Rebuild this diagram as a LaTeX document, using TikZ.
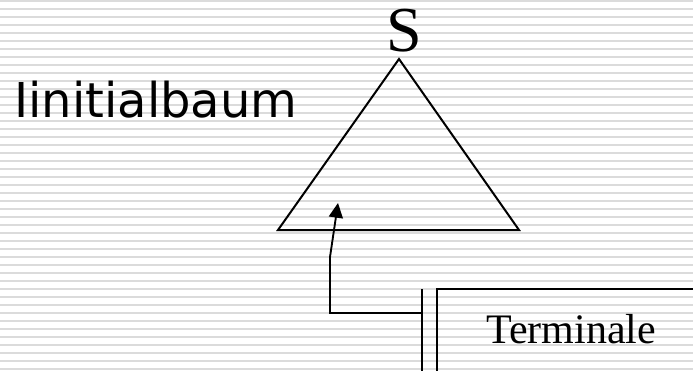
\documentclass[tikz,border=0pt]{standalone}
\usepackage{fontspec}
\setmainfont{Liberation Serif}
\newfontfamily\dejavu{DejaVu Sans}
\usetikzlibrary{arrows.meta}
\tikzset{
  stripe/.style={draw=black!14, line width=1.1pt},
  ink/.style={draw=black, line width=1.5pt},
  conn/.style={draw=black, line width=1.4pt, -{Triangle[length=11pt,width=10.5pt]}},
}
\begin{document}
\begin{tikzpicture}[x=0.75pt,y=-0.75pt]
\useasboundingbox (0,0) rectangle (693,371);
\clip (0,0) rectangle (693,371);
\fill[white] (0,0) rectangle (693,371);
\foreach \k in {0,...,46} {
  \draw[stripe] (0,{1+8*\k}) -- (693,{1+8*\k});
}
% triangle
\coordinate (apex) at (399,59);
\coordinate (bl) at (278,230);
\coordinate (br) at (519,230);
\draw[ink, line join=miter] (apex) -- (br) -- (bl) -- cycle;
% labels
\node[anchor=base, inner sep=0pt, font=\fontsize{48pt}{48pt}\selectfont] (s) at (404,51) {S};
\node[anchor=base west, inner sep=0pt, font=\dejavu\fontsize{36pt}{36pt}\selectfont] (init) at (14,117) {Iinitialbaum};
% box
\coordinate (outerTop) at (422,289);
\coordinate (outerBot) at (422,380);
\draw[ink] (outerTop) -- (outerBot);
\draw[ink] (437,380) -- (437,289) -- (710,289);
\node[anchor=base west, inner sep=0pt, font=\fontsize{31.5pt}{31.5pt}\selectfont] (term) at (486,343) {Terminale};
% connector
\coordinate (src) at (422,313);
\coordinate (tip) at (338,203);
\draw[conn] (src) -- (330,313) -- (330,257) -- (tip);
\end{tikzpicture}
\end{document}
